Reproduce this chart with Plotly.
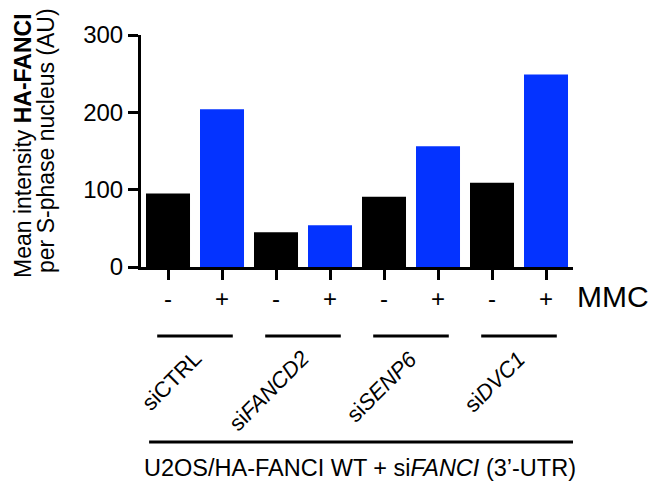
import plotly.graph_objects as go

# ---- data ----
groups = ["siCTRL", "si<i>FANCD2</i>", "si<i>SENP6</i>", "si<i>DVC1</i>"]
mmc_labels = ["-", "+"]
values_minus = [95, 45, 91, 109]
values_plus = [204, 54, 156, 249]
y_ticks = [0, 100, 200, 300]
bottom_label = "U2OS/HA-FANCI WT + si<i>FANCI</i> (3\u2019-UTR)"

FONT = "Liberation Sans, Arial, Helvetica, sans-serif"
BLUE = "#0433FF"

# plot-area geometry (px)
W_FIG, H_FIG = 662, 490
L, T, PW, PH = 141, 35, 432, 232

def px_x(px):
    return (px - L) / PW

def px_y(py):
    return (T + PH - py) / PH

x_minus = [2 * i for i in range(len(groups))]
x_plus = [2 * i + 1 for i in range(len(groups))]

fig = go.Figure()
fig.add_trace(go.Bar(x=x_minus, y=values_minus, marker=dict(color="black", line=dict(width=0)),
                     width=0.815, showlegend=False, hoverinfo="skip"))
fig.add_trace(go.Bar(x=x_plus, y=values_plus, marker=dict(color=BLUE, line=dict(width=0)),
                     width=0.815, showlegend=False, hoverinfo="skip"))

n = 2 * len(groups)
fig.update_layout(
    width=W_FIG, height=H_FIG,
    margin=dict(l=L, r=W_FIG - L - PW, t=T, b=H_FIG - T - PH, pad=0),
    paper_bgcolor="white", plot_bgcolor="white",
    barmode="overlay",
    font=dict(family=FONT, size=24, color="black"),
    xaxis=dict(range=[-0.5, n - 0.5], tickvals=list(range(n)),
               ticktext=mmc_labels * len(groups),
               showline=True, linecolor="black", linewidth=3,
               ticks="outside", ticklen=10, tickwidth=3, tickcolor="black",
               showgrid=False, zeroline=False, tickfont=dict(size=24),
               ticklabelstandoff=-2),
    yaxis=dict(range=[0, 300], tickvals=y_ticks,
               showline=True, linecolor="black", linewidth=3,
               ticks="outside", ticklen=10, tickwidth=3, tickcolor="black",
               showgrid=False, zeroline=False, tickfont=dict(size=24)),
)

ann = []
# y-axis title (two lines)
ann.append(dict(text="Mean intensity <b>HA-FANCI</b>", xref="paper", yref="paper",
                x=px_x(23), y=px_y(146), xanchor="center", yanchor="middle",
                textangle=-90, showarrow=False, font=dict(size=23)))
ann.append(dict(text="per S-phase nucleus (AU)", xref="paper", yref="paper",
                x=px_x(46), y=px_y(141), xanchor="center", yanchor="middle",
                textangle=-90, showarrow=False, font=dict(size=23)))
# MMC label
ann.append(dict(text="MMC", xref="paper", yref="paper", x=px_x(613), y=px_y(296),
                xanchor="center", yanchor="middle", showarrow=False, font=dict(size=30)))
# group labels (rotated)
for i, g in enumerate(groups):
    ann.append(dict(text=g, xref="x", yref="paper", x=2 * i + 0.76, y=px_y(343),
                    xanchor="right", yanchor="top", textangle=-45, showarrow=False,
                    font=dict(size=22)))
# bottom label
ann.append(dict(text=bottom_label, xref="x", yref="paper", x=3.56, y=px_y(468),
                xanchor="center", yanchor="middle", showarrow=False, font=dict(size=23.5)))
fig.update_layout(annotations=ann)

shapes = []
for i in range(len(groups)):
    c = 2 * i + 0.5
    shapes.append(dict(type="line", xref="x", yref="paper", x0=c - 0.7, x1=c + 0.7,
                       y0=px_y(336), y1=px_y(336), line=dict(color="black", width=3)))
shapes.append(dict(type="line", xref="x", yref="paper", x0=-0.35, x1=n - 0.5,
                   y0=px_y(442), y1=px_y(442), line=dict(color="black", width=3)))
fig.update_layout(shapes=shapes)

fig.write_html("out.html", config={"displayModeBar": False},
               post_script="document.body.style.margin='0';")
